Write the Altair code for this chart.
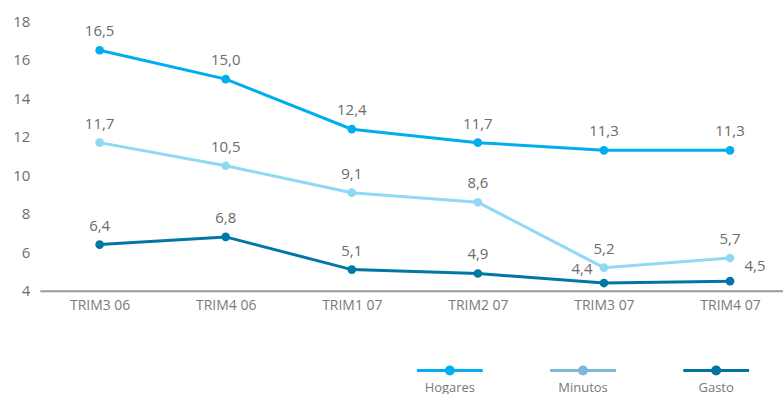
import altair as alt
import pandas as pd

# Quarterly values per series
quarters = ["TRIM3 06", "TRIM4 06", "TRIM1 07", "TRIM2 07", "TRIM3 07", "TRIM4 07"]
hogares = [16.5, 15.0, 12.4, 11.7, 11.3, 11.3]
minutos = [11.7, 10.5, 9.1, 8.6, 5.2, 5.7]
gasto = [6.4, 6.8, 5.1, 4.9, 4.4, 4.5]
y_ticks = [4, 6, 8, 10, 12, 14, 16, 18]

series_names = ["Hogares", "Minutos", "Gasto"]
line_colors = ["#00AEEF", "#8FD8F6", "#0077A5"]
legend_colors = ["#00B0F0", "#7DB9D7", "#0073A0"]

FONT = "Open Sans"
LABEL_GREY = "#6b6b6b"

rows = []
for name, vals in zip(series_names, [hogares, minutos, gasto]):
    for q, v in zip(quarters, vals):
        rows.append({"serie": name, "trim": q, "valor": v,
                     "etiqueta": f"{v:.1f}".replace(".", ",")})
df = pd.DataFrame(rows)

x_enc = alt.X("trim:N", sort=quarters, title=None,
              scale=alt.Scale(type="point", padding=0.447, align=0.53),
              axis=alt.Axis(labelAngle=0, ticks=False, domainColor="#9a9a9a",
                            domainWidth=2, labelColor="#7a7a7a", labelFontSize=14,
                            labelFont=FONT, labelPadding=8, grid=False))
y_enc = alt.Y("valor:Q", title=None,
              scale=alt.Scale(domain=[4, 18], nice=False, zero=False),
              axis=alt.Axis(values=y_ticks, domain=False,
                            ticks=False, grid=False, labelColor="#6e6e6e",
                            labelFontSize=15, labelFont=FONT, labelPadding=10,
                            labelOverlap=False))
color_enc = alt.Color("serie:N", legend=None,
                      scale=alt.Scale(domain=series_names, range=line_colors))

base = alt.Chart(df).encode(x=x_enc, y=y_enc, color=color_enc)

lines = base.mark_line(strokeWidth=3)
points = base.mark_circle(size=75, opacity=1)

text_base = alt.Chart(df).encode(x=x_enc, y=y_enc, text="etiqueta:N")
text_style = dict(font=FONT, fontSize=15, color=LABEL_GREY, baseline="middle")
is_44 = (alt.datum.serie == "Gasto") & (alt.datum.trim == "TRIM3 07")
is_45 = (alt.datum.serie == "Gasto") & (alt.datum.trim == "TRIM4 07")

labels = text_base.transform_filter(~(is_44 | is_45)).mark_text(dy=-19, **text_style)
label_44 = text_base.transform_filter(is_44).mark_text(dx=-22, dy=-14, **text_style)
label_45 = text_base.transform_filter(is_45).mark_text(dx=25, dy=-15, **text_style)

main = alt.layer(lines, points, labels, label_44, label_45).properties(
    width=745, height=270)

# Legend row: short line with a dot, name underneath
leg_df = pd.DataFrame({"nombre": series_names})
leg_x = alt.X("nombre:N", sort=series_names, title=None, axis=None,
              scale=alt.Scale(type="point", range=[411, 678], padding=0))
leg_color = alt.Color("nombre:N", legend=None,
                      scale=alt.Scale(domain=series_names, range=legend_colors))
leg_base = alt.Chart(leg_df).encode(x=leg_x, color=leg_color)
leg_rule = leg_base.mark_rule(strokeWidth=3, xOffset=-33, x2Offset=33).encode(
    x2=alt.X2("nombre:N"))
leg_dot = leg_base.mark_circle(size=100, opacity=1)
leg_text = alt.Chart(leg_df).encode(x=leg_x, text="nombre:N").mark_text(
    font=FONT, fontSize=13, color="#777777", dy=17, baseline="middle")
legend = alt.layer(leg_rule, leg_dot, leg_text).properties(width=745, height=30)

chart = alt.vconcat(main, legend, spacing=43).resolve_scale(
    color="independent"
).properties(
    padding={"left": 12, "top": 14, "right": 0, "bottom": 0}
).configure(background="white").configure_view(stroke=None).configure_axis(
    labelOverlap=False
)

chart.save("out.html", embed_options={"renderer": "svg", "actions": False})
